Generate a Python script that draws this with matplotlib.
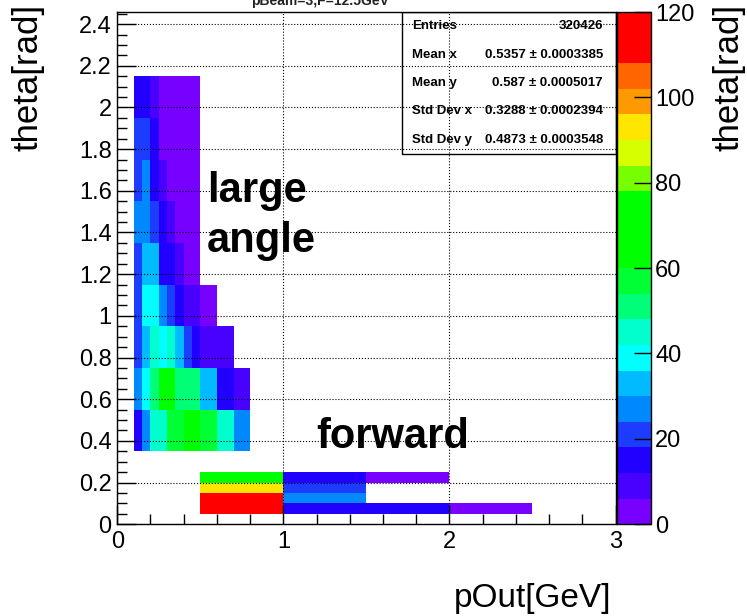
import numpy as np
import matplotlib
matplotlib.use("Agg")
from matplotlib import pyplot as plt
from matplotlib.colors import ListedColormap, BoundaryNorm
from matplotlib.ticker import MultipleLocator, FuncFormatter

plt.rcParams['font.family'] = ['Liberation Sans', 'DejaVu Sans']

nan = np.nan

# large angle block: x bins 0.05 wide, y bins 0.2 tall (rows from bottom)
large_x_edges = [0.10, 0.15, 0.20, 0.25, 0.30, 0.35, 0.40, 0.45,
                 0.50, 0.55, 0.60, 0.65, 0.70, 0.75, 0.80]
large_y_edges = [0.35, 0.55, 0.75, 0.95, 1.15, 1.35, 1.55, 1.75, 1.95, 2.15]
large_counts = [
    [15, 27, 45, 45, 57, 57, 66, 66, 57, 57, 45, 45, 27, 27],
    [27, 39, 51, 66, 66, 51, 51, 51, 33, 33, 15, 15, 9, 9],
    [21, 33, 45, 39, 45, 33, 21, 15, 9, 9, 9, 9, nan, nan],
    [21, 39, 39, 27, 21, 15, 9, 9, 3, 3, nan, nan, nan, nan],
    [21, 33, 33, 15, 15, 9, 3, 3, nan, nan, nan, nan, nan, nan],
    [27, 27, 21, 15, 9, 3, 3, 3, nan, nan, nan, nan, nan, nan],
    [21, 27, 15, 9, 3, 3, 3, 3, nan, nan, nan, nan, nan, nan],
    [21, 21, 15, 3, 3, 3, 3, 3, nan, nan, nan, nan, nan, nan],
    [15, 15, 9, 3, 3, 3, 3, 3, nan, nan, nan, nan, nan, nan],
]

# forward block: x bins 0.5 wide, y bins 0.05 tall
forward_x_edges = [0.5, 1.0, 1.5, 2.0, 2.5]
forward_y_edges = [0.05, 0.10, 0.15, 0.20, 0.25]
forward_counts = [
    [115, 15, 15, 3],
    [117, 27, nan, nan],
    [93, 21, nan, nan],
    [66, 15, 3, nan],
]

stats_names = ["Entries", "Mean x", "Mean y", "Std Dev x", "Std Dev y"]
stats_values = ["320426", "0.5357 \u00b1 0.0003385", "0.587 \u00b1 0.0005017",
                "0.3288 \u00b1 0.0002394", "0.4873 \u00b1 0.0003548"]

palette = ["#7800ff", "#4800ff", "#2200ff", "#1c3cff", "#0088ff",
           "#00bbff", "#00ffff", "#00ffcc", "#00ff77", "#00ff33",
           "#00ff00", "#00ff00", "#00ff00", "#77ff00", "#d6ff00",
           "#ffe600", "#ff9900", "#ff6600", "#ff0000", "#ff0000"]
cmap = ListedColormap(palette)
norm = BoundaryNorm(np.arange(0, 121, 6), cmap.N)

fig = plt.figure(figsize=(7.47, 6.16), dpi=100)
ax = fig.add_axes([0.157, 0.149, 0.667, 0.8315])

mesh = ax.pcolormesh(large_x_edges, large_y_edges, np.ma.masked_invalid(large_counts),
                     cmap=cmap, norm=norm)
ax.pcolormesh(forward_x_edges, forward_y_edges, np.ma.masked_invalid(forward_counts),
              cmap=cmap, norm=norm)

ax.set_xlim(0, 3)
ax.set_ylim(0, 2.458)
ax.xaxis.set_major_locator(MultipleLocator(1))
ax.xaxis.set_minor_locator(MultipleLocator(0.2))
ax.yaxis.set_major_locator(MultipleLocator(0.2))
ax.yaxis.set_minor_locator(MultipleLocator(0.05))
ax.yaxis.set_major_formatter(FuncFormatter(lambda v, p: "%g" % round(v, 2)))
ax.tick_params(which='major', direction='in', length=14, width=1, labelsize=17)
ax.tick_params(which='minor', direction='in', length=7, width=1)
ax.tick_params(axis='x', pad=5)
ax.tick_params(axis='y', pad=4)
ax.set_axisbelow(False)
ax.grid(True, which='major', linestyle=':', color='black', linewidth=0.8)
for s in ax.spines.values():
    s.set_linewidth(1)

ax.text(0.54, 1.60, "large", fontsize=30, fontweight='bold', va='center', ha='left')
ax.text(0.54, 1.36, "angle", fontsize=30, fontweight='bold', va='center', ha='left')
ax.text(1.66, 0.42, "forward", fontsize=30, fontweight='bold', va='center', ha='center')

# stats box
bx0, by0 = 0.571, 0.7227
ax.add_patch(plt.Rectangle((bx0, by0), 1 - bx0, 1 - by0, transform=ax.transAxes,
                           facecolor='none', edgecolor='black', linewidth=1, zorder=5))
row_h = (1 - by0) / len(stats_names)
for i, (name, val) in enumerate(zip(stats_names, stats_values)):
    yy = 1 - row_h * (i + 0.5)
    ax.text(bx0 + 0.021, yy, name, transform=ax.transAxes, fontsize=9.5,
            fontweight='bold', va='center', ha='left')
    ax.text(0.975, yy, val, transform=ax.transAxes, fontsize=9.5,
            fontweight='bold', va='center', ha='right')

cax = fig.add_axes([0.826, 0.149, 0.0455, 0.8315])
cb = fig.colorbar(mesh, cax=cax, ticks=list(range(0, 121, 20)))
cb.ax.tick_params(direction='in', length=12, width=1, labelsize=17, pad=3)
cb.ax.minorticks_off()
cb.outline.set_linewidth(1)

fig.text(0.0375, 1 - 4 / 616, "theta[rad]", rotation=90, fontsize=25, ha='center', va='top')
fig.text(0.976, 1 - 4 / 616, "theta[rad]", rotation=90, fontsize=25, ha='center', va='top')
fig.text(0.819, 0.004, "pOut[GeV]", fontsize=24, ha='right', va='bottom')
fig.text(0.428, 1 - 5 / 616, "pBeam=3,F=12.5GeV", fontsize=10, fontweight='bold',
         ha='center', va='baseline', color='#222222')

fig.savefig("out.png", dpi=100)
